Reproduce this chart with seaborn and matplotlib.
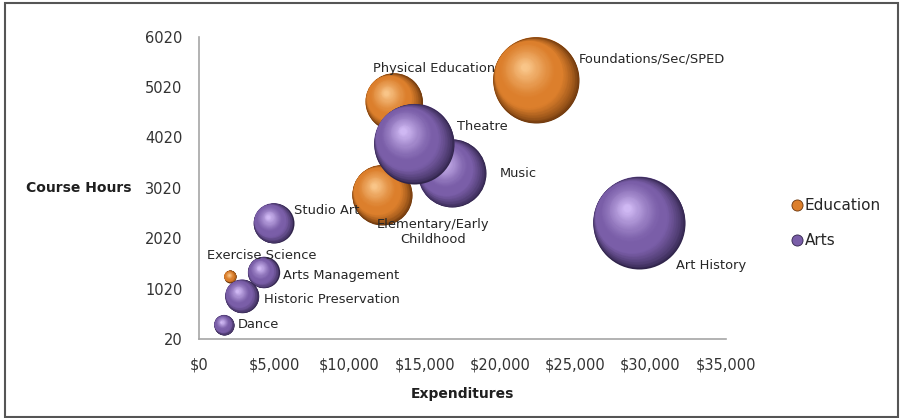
import numpy as np
import pandas as pd
import matplotlib
matplotlib.use("Agg")
import matplotlib.pyplot as plt
import seaborn as sns
from matplotlib.transforms import offset_copy
from matplotlib.colors import to_rgb
from matplotlib.lines import Line2D
from matplotlib.patches import Rectangle

# ---------------- data ----------------
programs = ["Foundations/Sec/SPED", "Physical Education", "Elementary/Early\nChildhood",
            "Exercise Science", "Art History", "Music", "Theatre", "Studio Art",
            "Arts Management", "Historic Preservation", "Dance"]
groups = ["Education"] * 4 + ["Arts"] * 7
expenditures = [22400, 12950, 12180, 2070, 29250, 16800, 14290, 4960, 4290, 2850, 1670]
course_hours = [5160, 4730, 2880, 1260, 2330, 3310, 3900, 2320, 1340, 870, 300]
bubble_size = [1849, 812, 900, 36, 2116, 1156, 1600, 400, 246, 280, 100]

x_ticks = [0, 5000, 10000, 15000, 20000, 25000, 30000, 35000]
x_tick_labels = ["$0", "$5,000", "$10,000", "$15,000", "$20,000", "$25,000", "$30,000", "$35,000"]
y_ticks = [20, 1020, 2020, 3020, 4020, 5020, 6020]

df = pd.DataFrame({"Program": programs, "Group": groups, "Expenditures": expenditures,
                   "Course Hours": course_hours, "Size": bubble_size})

# ---------------- style ----------------
sns.set_style("white")
plt.rcParams["font.family"] = ["DejaVu Sans"]

base_colors = {"Education": "#DC7F2C", "Arts": "#7A5EA8"}
dark_colors = {"Education": "#6A360C", "Arts": "#30244A"}
light_colors = {"Education": "#F9C588", "Arts": "#CFB8F3"}

label_offsets = {  # (dx px, dy px (down), ha)
    "Foundations/Sec/SPED": (43, -21, "left"),
    "Physical Education": (40, -33, "center"),
    "Elementary/Early\nChildhood": (51, 37, "center"),
    "Exercise Science": (32, -21, "center"),
    "Art History": (37, 43, "left"),
    "Music": (48, 0, "left"),
    "Theatre": (43, -17, "left"),
    "Studio Art": (20, -13, "left"),
    "Arts Management": (19, 3, "left"),
    "Historic Preservation": (22, 3, "left"),
    "Dance": (14, 0, "left"),
}

W, H, DPI = 900, 418, 100
fig = plt.figure(figsize=(W / DPI, H / DPI), dpi=DPI)
ax = fig.add_axes([199 / W, (H - 339) / H, 526.7 / W, 302.3 / H])

SCALE = 2.0736  # points^2 per size unit
smin, smax = min(bubble_size), max(bubble_size)
sns.scatterplot(data=df, x="Expenditures", y="Course Hours", hue="Group", size="Size",
                palette=base_colors, sizes=(SCALE * smin, SCALE * smax), size_norm=(smin, smax),
                linewidth=0, legend=False, ax=ax, zorder=1, clip_on=False)


def mix(c1, c2, u):
    a, b = np.array(to_rgb(c1)), np.array(to_rgb(c2))
    return np.clip(a + (b - a) * u, 0, 1)


UX, UY = -0.8, 0.6   # direction of the light (upper left)
A = 0.22             # width of the shadowed rim
z = 2


def layer(x, y, diam, dx, dy, color):
    global z
    tr = offset_copy(ax.transData, fig=fig, x=dx, y=dy, units="points")
    ax.scatter([x], [y], s=diam ** 2, color=color, linewidths=0, transform=tr,
               zorder=z, clip_on=False)
    z += 0.001


for i, row in df.iterrows():
    g = row["Group"]
    x, y = row["Expenditures"], row["Course Hours"]
    diam = np.sqrt(SCALE * row["Size"])
    r = diam / 2
    # shaded rim: dark on the lower right, fading to the base colour
    K1 = 20
    for k in range(K1):
        t = k / (K1 - 1)
        f = 1 - A * t
        layer(x, y, diam * f, UX * A * t * r, UY * A * t * r,
              mix(dark_colors[g], base_colors[g], t ** 0.7))
    # soft highlight toward the upper left
    K2 = 26
    hx, hy = -0.27 * r, 0.31 * r
    for k in range(K2):
        t = k / (K2 - 1)
        f = 0.66 * (1 - t) + 0.08 * t
        layer(x, y, diam * f, hx * (0.75 + 0.25 * t), hy * (0.75 + 0.25 * t),
              mix(base_colors[g], light_colors[g], t ** 1.2))
    z += 1

for i, row in df.iterrows():
    dxp, dyp, ha = label_offsets[row["Program"]]
    ax.annotate(row["Program"], (row["Expenditures"], row["Course Hours"]),
                xytext=(dxp * 0.72, -dyp * 0.72), textcoords="offset points",
                ha=ha, va="center", fontsize=9.4, color="#262626", zorder=100,
                linespacing=1.25)

ax.set_xlim(0, 35000)
ax.set_ylim(20, 6020)
ax.set_xticks(x_ticks)
ax.set_xticklabels(x_tick_labels)
ax.set_yticks(y_ticks)
ax.set_yticklabels([str(v) for v in y_ticks])
for side in ["top", "right"]:
    ax.spines[side].set_visible(False)
for side in ["left", "bottom"]:
    ax.spines[side].set_color("#A6A6A6")
    ax.spines[side].set_linewidth(1.2)
ax.tick_params(axis="both", which="major", direction="out", length=5, width=1.2,
               color="#A6A6A6", labelcolor="#333333", labelsize=10.5)
ax.tick_params(axis="x", pad=8)
ax.tick_params(axis="y", pad=7)

ax.set_xlabel("Expenditures", fontsize=10, fontweight="bold", color="#1F1F1F", labelpad=11)
ax.set_ylabel("Course Hours", fontsize=10, fontweight="bold", color="#1F1F1F",
              rotation=0, ha="right", va="center")
ax.yaxis.set_label_coords((131.7 - 199) / 526.7, 0.5)

handles = [Line2D([0], [0], marker="o", linestyle="", markersize=8,
                  markerfacecolor=base_colors[g], markeredgecolor=dark_colors[g],
                  markeredgewidth=0.6, label=g) for g in ["Education", "Arts"]]
fig.legend(handles=handles, loc="center left", bbox_to_anchor=(785 / W, 1 - 223 / H),
           frameon=False, fontsize=11, handlelength=0.6, handletextpad=0.2,
           labelspacing=1.3, borderpad=0, labelcolor="#262626")

fig.patches.append(Rectangle((5 / W, 1.5 / H), 893 / W, 413.5 / H, transform=fig.transFigure,
                             fill=False, edgecolor="#555555", linewidth=1.5))

fig.savefig("out.png", dpi=DPI)
